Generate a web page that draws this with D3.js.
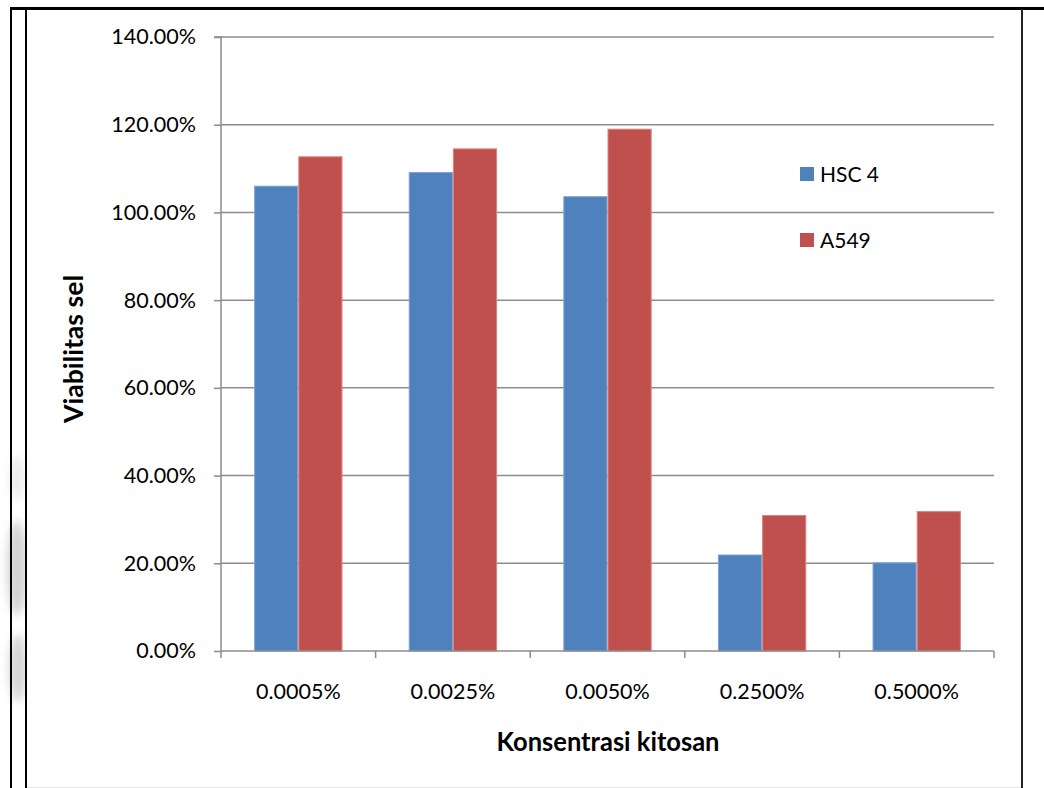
<!DOCTYPE html>
<html><head><meta charset="utf-8">
<script src="https://cdn.jsdelivr.net/npm/d3@7"></script>
<style>html,body{margin:0;padding:0;background:#fff;}svg{display:block;}</style>
</head><body>
<script>
const categories = ["0.0005%", "0.0025%", "0.0050%", "0.2500%", "0.5000%"];
const seriesNames = ["HSC 4", "A549"];
const hsc4 = [106.1, 109.2, 103.7, 22.0, 20.2];
const a549 = [112.8, 114.6, 119.1, 31.0, 31.9];
const yTicks = [0, 20, 40, 60, 80, 100, 120, 140];
const colors = ["#4F81BD", "#C0504D"];
const edgeColors = ["#7fa3d3", "#d98380"];

(function () {
const W = 1044, H = 788;
const svg = d3.select("body").append("svg").attr("width", W).attr("height", H);
const font = "Lato, 'Open Sans', sans-serif";

// watermark blurs on the left
const defs = svg.append("defs");
defs.append("filter").attr("id","blur").attr("x", "-100%").attr("width", "300%")
  .append("feGaussianBlur").attr("stdDeviation", 4);
defs.append("clipPath").attr("id", "wmclip").append("rect").attr("x", 0).attr("y", 0).attr("width", 26).attr("height", H);
const wm = svg.append("g").attr("clip-path", "url(#wmclip)");
[[17, 478, 8, 22, 0.3], [17, 568, 10, 48, 0.75], [18, 668, 9, 34, 0.7]].forEach(e => {
  wm.append("ellipse").attr("cx", e[0]).attr("cy", e[1]).attr("rx", e[2]).attr("ry", e[3])
    .attr("fill", "#c4c4c4").attr("opacity", e[4]).attr("filter", "url(#blur)");
});

// frame lines
svg.append("line").attr("x1", 10).attr("x2", W).attr("y1", 8.5).attr("y2", 8.5).attr("stroke", "#000").attr("stroke-width", 3);
svg.append("line").attr("x1", 11).attr("x2", 11).attr("y1", 7).attr("y2", H).attr("stroke", "#000").attr("stroke-width", 2);
svg.append("line").attr("x1", 26).attr("x2", 26).attr("y1", 9).attr("y2", H).attr("stroke", "#000").attr("stroke-width", 2);
svg.append("line").attr("x1", 1022).attr("x2", 1022).attr("y1", 9).attr("y2", H).attr("stroke", "#222").attr("stroke-width", 2);
svg.append("line").attr("x1", 27).attr("x2", 1021).attr("y1", 787.5).attr("y2", 787.5).attr("stroke", "#e4e4e4").attr("stroke-width", 1);

const pL = 221, pR = 994, pT = 37, pB = 651;
const x = d3.scaleBand().domain(categories).range([pL, pR]).paddingInner(0).paddingOuter(0);
const bw = x.bandwidth() / 3.5;
const y = d3.scaleLinear().domain([0, 140]).range([pB, pT]);

// gridlines
svg.append("g").selectAll("line").data(yTicks.filter(d => d > 0)).join("line")
  .attr("x1", pL).attr("x2", pR).attr("y1", d => y(d)).attr("y2", d => y(d))
  .attr("stroke", "#8c8c8c").attr("stroke-width", 1.5);

// bars
const data = categories.map((c, i) => ({c, v: [hsc4[i], a549[i]]}));
const g = svg.append("g");
data.forEach(d => {
  d.v.forEach((v, s) => {
    const x0 = x(d.c) + bw * 0.75 + s * bw;
    g.append("rect").attr("x", x0 + 0.5).attr("y", y(v) + 0.5)
      .attr("width", bw - 1).attr("height", y(0) - y(v) - 0.5)
      .attr("fill", colors[s]).attr("stroke", edgeColors[s]).attr("stroke-width", 1);
  });
});

// y axis
const yAxis = d3.axisLeft(y).tickValues(yTicks).tickSize(7).tickPadding(18)
  .tickFormat(d => d.toFixed(2) + "%");
const ya = svg.append("g").attr("transform", `translate(${pL},0)`).call(yAxis);
ya.select(".domain").attr("stroke", "#8c8c8c").attr("stroke-width", 1.5).attr("d", `M-7,${pT}H0V${pB}`);
ya.selectAll(".tick line").attr("stroke", "#8c8c8c").attr("stroke-width", 1.5);
ya.selectAll(".tick text").attr("font-family", font).attr("font-size", 21.5).attr("fill", "#000");

// x axis
const xTickPos = d3.range(categories.length + 1).map(i => pL + i * x.bandwidth());
const xa = svg.append("g").attr("transform", `translate(0,${pB})`);
xa.append("line").attr("x1", pL).attr("x2", pR).attr("stroke", "#8c8c8c").attr("stroke-width", 1.5);
xa.selectAll(".tk").data(xTickPos).join("line").attr("class", "tk")
  .attr("x1", d => d).attr("x2", d => d).attr("y1", 0).attr("y2", 7)
  .attr("stroke", "#8c8c8c").attr("stroke-width", 1.5);
xa.selectAll("text").data(categories).join("text")
  .attr("x", d => x(d) + x.bandwidth() / 2).attr("y", 47.5)
  .attr("text-anchor", "middle").attr("font-family", font).attr("font-size", 21.5).text(d => d);

// titles
svg.append("text").attr("x", 608).attr("y", 751).attr("text-anchor", "middle")
  .attr("font-family", font).attr("font-weight", "bold").attr("font-size", 26)
  .attr("textLength", 223).attr("lengthAdjust", "spacingAndGlyphs").text("Konsentrasi kitosan");
svg.append("text").attr("transform", "translate(83,349) rotate(-90)").attr("text-anchor", "middle")
  .attr("font-family", font).attr("font-weight", "bold").attr("font-size", 26)
  .attr("textLength", 148).attr("lengthAdjust", "spacingAndGlyphs").text("Viabilitas sel");

// legend
const lg = svg.append("g");
seriesNames.forEach((n, i) => {
  const ly = 167 + i * 66;
  lg.append("rect").attr("x", 800).attr("y", ly).attr("width", 14).attr("height", 14).attr("fill", colors[i]);
  lg.append("text").attr("x", 820).attr("y", ly + 14.5).attr("font-family", font).attr("font-size", 21).text(n);
});
})();
</script>
</body></html>
